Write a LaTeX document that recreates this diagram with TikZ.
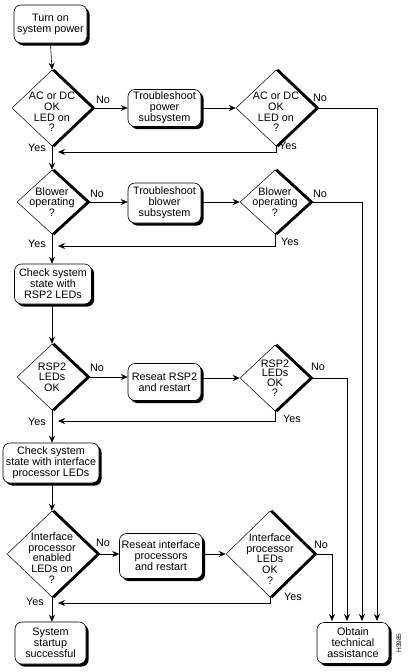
\documentclass[tikz,border=0pt]{standalone}
\usepackage{fontspec}
\setmainfont{Liberation Sans}
\usetikzlibrary{shapes.geometric,arrows.meta,shadows,calc}
\begin{document}
\begin{tikzpicture}[x=1pt,y=-1pt,
  font=\fontsize{10.8}{11}\selectfont,
  box/.style={draw, line width=0.6pt, fill=white, rounded corners=7pt, inner sep=0pt, align=center,
    drop shadow={shadow xshift=2.6pt, shadow yshift=-2.6pt, fill=black, opacity=1}},
  dia/.style={diamond, draw, line width=0.5pt, inner sep=0pt, fill=white},
  dtext/.style={align=center, inner sep=0pt, font=\fontsize{10.8}{10.6}\selectfont},
  heavy/.style={line width=2.7pt, transform canvas={xshift=1.3pt}},
  arr/.style={-{Stealth[length=7pt,width=6pt]}, line width=0.6pt},
  lab/.style={inner sep=0pt}
]
\useasboundingbox (0,0) rectangle (410,672);

% column 1
\node[box, minimum width=73, minimum height=38] (start) at (50.5,24) {Turn on\\system power};
\node[dia, minimum width=80, minimum height=76] (d1) at (52,108) {};
\node[dtext, yshift=-4pt] (t1) at (d1) {AC or DC\\OK\\LED on\\?};
\node[dia, minimum width=70, minimum height=64] (d3) at (52,202) {};
\node[dtext] (t3) at (d3) {Blower\\operating\\?};
\node[box, minimum width=77, minimum height=40] (b3) at (53,284) {Check system\\state with\\RSP2 LEDs};
\node[dia, minimum width=70, minimum height=66] (d5) at (52,377) {};
\node[dtext] (t5) at (d5) {RSP2\\LEDs\\OK};
\node[box, minimum width=96, minimum height=40] (b5) at (51,463) {Check system\\state with interface\\processor LEDs};
\node[dia, minimum width=90, minimum height=86] (d7) at (52,554) {};
\node[dtext, yshift=-4pt] (t7) at (d7) {Interface\\processor\\enabled\\LEDs on\\?};
\node[box, minimum width=71, minimum height=42] (sys) at (50.5,643) {System\\startup\\successful};

% column 2
\node[box, minimum width=73, minimum height=37] (b1) at (164.5,108) {Troubleshoot\\power\\subsystem};
\node[box, minimum width=73, minimum height=40] (b2) at (164.5,203) {Troubleshoot\\blower\\subsystem};
\node[box, minimum width=73, minimum height=37] (b4) at (164.5,382) {Reseat RSP2\\and restart};
\node[box, minimum width=83, minimum height=45] (b6) at (161,556) {Reseat interface\\processors\\and restart};

% column 3
\node[dia, minimum width=80, minimum height=76] (d2) at (276,108) {};
\node[dtext, yshift=-4pt] (t2) at (d2) {AC or DC\\OK\\LED on\\?};
\node[dia, minimum width=70, minimum height=64] (d4) at (275,202) {};
\node[dtext] (t4) at (d4) {Blower\\operating\\?};
\node[dia, minimum width=70, minimum height=66] (d6) at (275,378) {};
\node[dtext, font=\fontsize{10.8}{9.8}\selectfont] (t6) at (d6) {RSP2\\LEDs\\OK\\?};
\node[dia, minimum width=88, minimum height=86] (d8) at (270,554) {};
\node[dtext, yshift=-5pt] (t8) at (d8) {Interface\\processor\\LEDs\\OK\\?};

\node[box, minimum width=72, minimum height=41] (b7) at (353,643) {Obtain\\technical\\assistance};
\node[lab, rotate=90, font=\fontsize{6.5}{7}\selectfont] (code) at (399,643) {H3985};

% heavy right edges of diamonds
\foreach \d in {d1,d2,d3,d4,d5,d6,d7,d8}
  \draw[heavy] (\d.north) -- (\d.east) -- (\d.south);

% return points and arrival points
\coordinate (r1) at (58,152);
\coordinate (r2) at (58,246);
\coordinate (r3) at (58,421);
\coordinate (r4) at (58,603);
\coordinate (e1) at (377,621);
\coordinate (e2) at (362,621);
\coordinate (e3) at (347,621);
\coordinate (e4) at (332,621);

% main column
\draw[arr] (start.south) -- (d1.north);
\draw[arr] (d1.south) -- (d3.north);
\draw[arr] (d3.south) -- (b3.north -| d3.south);
\draw[arr] (b3.south -| d5.north) -- (d5.north);
\draw[arr] (d5.south) -- (b5.north -| d5.south);
\draw[arr] (b5.south -| d7.north) -- (d7.north);
\draw[arr] (d7.south) -- (sys.north -| d7.south);

% No branches
\draw[arr] (d1.east) -- (b1.west |- d1.east);
\draw[arr] (b1.east |- d2.west) -- (d2.west);
\draw[arr] (d3.east) -- (b2.west |- d3.east);
\draw[arr] (b2.east |- d4.west) -- (d4.west);
\draw[arr] (d5.east) -- (b4.west |- d5.east);
\draw[arr] (b4.east |- d6.west) -- (d6.west);
\draw[arr] (d7.east) -- (b6.west |- d7.east);
\draw[arr] (b6.east |- d8.west) -- (d8.west);

% to technical assistance
\draw[arr] (d2.east) -| (e1);
\draw[arr] (d4.east) -| (e2);
\draw[arr] (d6.east) -| (e3);
\draw[arr] (d8.east) -| (e4);

% Yes returns
\draw[arr] (d2.south) |- (r1);
\draw[arr] (d4.south) |- (r2);
\draw[arr] (d6.south) |- (r3);
\draw[arr] (d8.south) |- (r4);

% labels
\node[lab] (n1) at (103,100) {No};
\node[lab] (n2) at (320,98) {No};
\node[lab] (n3) at (97,194) {No};
\node[lab] (n4) at (320,194) {No};
\node[lab] (n5) at (97,368) {No};
\node[lab] (n6) at (318,367) {No};
\node[lab] (n7) at (103,543) {No};
\node[lab] (n8) at (321,545) {No};
\node[lab] (y1) at (37,148) {Yes};
\node[lab] (y2) at (288,146) {Yes};
\node[lab] (y3) at (37,244) {Yes};
\node[lab] (y4) at (290,242) {Yes};
\node[lab] (y5) at (37,422) {Yes};
\node[lab] (y6) at (292,419) {Yes};
\node[lab] (y7) at (35,602) {Yes};
\node[lab] (y8) at (293,597) {Yes};
\end{tikzpicture}
\end{document}
